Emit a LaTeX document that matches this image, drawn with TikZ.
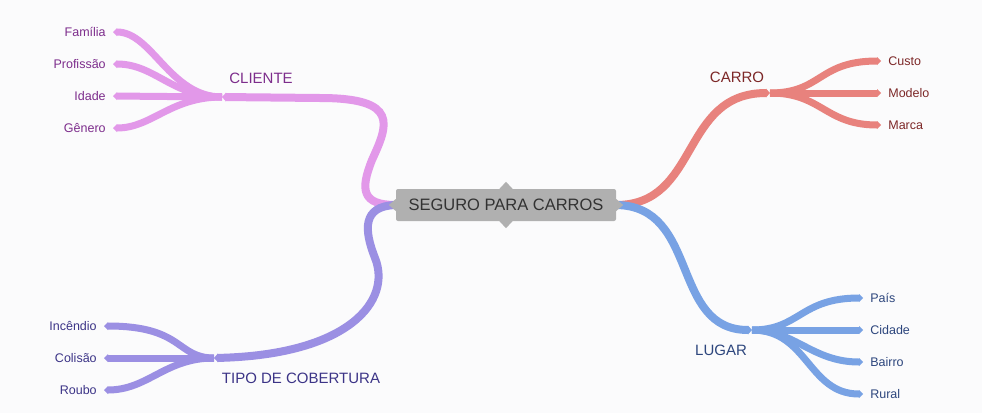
\documentclass[tikz,border=0pt]{standalone}
\usepackage{fontspec}
\setmainfont{Liberation Sans}
\usepackage{tikz}
\usetikzlibrary{arrows.meta}
\usetikzlibrary{calc}

\definecolor{bgcol}{RGB}{251,251,252}
\definecolor{rootgray}{RGB}{176,176,176}
\definecolor{roottext}{RGB}{50,50,50}
\definecolor{clicol}{RGB}{226,152,233}
\definecolor{clitext}{RGB}{125,45,140}
\definecolor{tipocol}{RGB}{155,143,227}
\definecolor{tipotext}{RGB}{60,52,135}
\definecolor{carcol}{RGB}{232,130,125}
\definecolor{cartext}{RGB}{125,40,40}
\definecolor{lugcol}{RGB}{120,162,228}
\definecolor{lugtext}{RGB}{45,70,125}

\begin{document}
\begin{tikzpicture}[x=1pt, y=-1pt,
        root_style/.style={rectangle,rounded corners=2pt,fill=rootgray,text=roottext,minimum width=220pt,minimum height=32pt,font=\fontsize{16.5}{18}\selectfont},
        topic_style/.style={text=#1,font=\fontsize{15}{17}\selectfont},
        leaf_left_style/.style={anchor=east,outer sep=4pt,text height=9pt,text depth=0pt,text=#1,font=\fontsize{12.5}{14}\selectfont},
        leaf_right_style/.style={anchor=west,outer sep=4pt,text height=9pt,text depth=0pt,text=#1,font=\fontsize{12.5}{14}\selectfont},
        branch_style/.style={draw=#1, line width=8pt, -{Triangle[length=4pt,width=9pt,line width=0pt]}},
        twig_style/.style={draw=#1, line width=7pt, -{Triangle[length=4pt,width=8pt,line width=0pt]}}]

        \fill [bgcol] (0,0) rectangle (982,413);
        \useasboundingbox (0,0) rectangle (982,413);

        \node [root_style](root) at (506,205) {SEGURO PARA CARROS};

        \coordinate (h_cli) at (222,97);

        \coordinate (h_tipo) at (214,358);

        \coordinate (h_car) at (770,93);

        \coordinate (h_lug) at (752,330);

        \node [topic_style=clitext](t_cli) at (261,78) {CLIENTE};

        \node [topic_style=tipotext](t_tipo) at (301,378) {TIPO DE COBERTURA};

        \node [topic_style=cartext](t_car) at (737,77) {CARRO};

        \node [topic_style=lugtext](t_lug) at (721,350) {LUGAR};

        \node [leaf_left_style=clitext](n_fam) at (113,32) {Família};

        \node [leaf_left_style=clitext](n_pro) at (113,64) {Profissão};

        \node [leaf_left_style=clitext](n_ida) at (113,96) {Idade};

        \node [leaf_left_style=clitext](n_gen) at (113,128) {Gênero};

        \node [leaf_left_style=tipotext](n_inc) at (104,326) {Incêndio};

        \node [leaf_left_style=tipotext](n_col) at (104,358) {Colisão};

        \node [leaf_left_style=tipotext](n_rou) at (104,390) {Roubo};

        \node [leaf_right_style=cartext](n_cus) at (881,61) {Custo};

        \node [leaf_right_style=cartext](n_mod) at (881,93) {Modelo};

        \node [leaf_right_style=cartext](n_mar) at (881,125) {Marca};

        \node [leaf_right_style=lugtext](n_pai) at (863,298) {País};

        \node [leaf_right_style=lugtext](n_cid) at (863,330) {Cidade};

        \node [leaf_right_style=lugtext](n_bai) at (863,362) {Bairro};

        \node [leaf_right_style=lugtext](n_rur) at (863,394) {Rural};

        \draw [twig_style=clicol] (h_cli) .. controls (170,97) and (152,32) .. (n_fam.east);

        \draw [twig_style=clicol] (h_cli) .. controls (172,97) and (155,64) .. (n_pro.east);

        \draw [twig_style=clicol] (h_cli) -- (n_ida.east);

        \draw [twig_style=clicol] (h_cli) .. controls (170,97) and (152,128) .. (n_gen.east);

        \draw [twig_style=tipocol] (h_tipo) .. controls (176,358) and (184,326) .. (n_inc.east);

        \draw [twig_style=tipocol] (h_tipo) -- (n_col.east);

        \draw [twig_style=tipocol] (h_tipo) .. controls (165,358) and (148,390) .. (n_rou.east);

        \draw [twig_style=carcol] (h_car) .. controls (822,93) and (818,61) .. (n_cus.west);

        \draw [twig_style=carcol] (h_car) -- (n_mod.west);

        \draw [twig_style=carcol] (h_car) .. controls (822,93) and (825,125) .. (n_mar.west);

        \draw [twig_style=lugcol] (h_lug) .. controls (800,330) and (800,298) .. (n_pai.west);

        \draw [twig_style=lugcol] (h_lug) -- (n_cid.west);

        \draw [twig_style=lugcol] (h_lug) .. controls (795,330) and (812,362) .. (n_bai.west);

        \draw [twig_style=lugcol] (h_lug) .. controls (808,330) and (808,394) .. (n_rur.west);

        \draw [branch_style=clicol] (root.west) .. controls (362,205) and (360,190) .. (372,160) .. controls (388,125) and (400,98) .. (320,98) -- (h_cli);

        \draw [branch_style=tipocol] (root.west) .. controls (362,206) and (364,230) .. (375,258) .. controls (392,300) and (350,355) .. (h_tipo);

        \draw [branch_style=carcol] (root.east) .. controls (700,205) and (680,93) .. (h_car);

        \draw [branch_style=lugcol] (root.east) .. controls (700,206) and (670,330) .. (h_lug);

        \fill [rootgray] ($(root.west)+(0,-6)$) -- ($(root.west)+(-7,0)$) -- ($(root.west)+(0,6)$) -- cycle;

        \fill [rootgray] ($(root.east)+(0,-6)$) -- ($(root.east)+(7,0)$) -- ($(root.east)+(0,6)$) -- cycle;

        \fill [rootgray] ($(root.north)+(-7,0.5)$) -- ($(root.north)+(0,-7)$) -- ($(root.north)+(7,0.5)$) -- cycle;

        \fill [rootgray] ($(root.south)+(-7,-0.5)$) -- ($(root.south)+(0,7)$) -- ($(root.south)+(7,-0.5)$) -- cycle;

        \end{tikzpicture}
\end{document}
